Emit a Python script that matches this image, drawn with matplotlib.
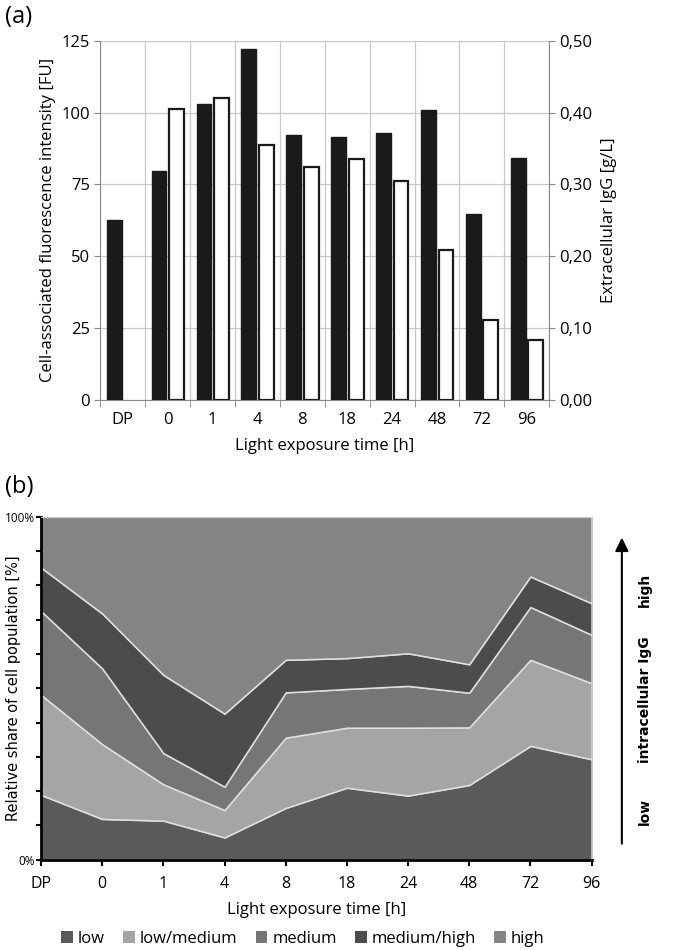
import numpy as np
import matplotlib
matplotlib.use("Agg")
from matplotlib import pyplot as plt
from matplotlib.patches import Patch, FancyArrowPatch

plt.rcParams['font.family'] = ['Open Sans', 'DejaVu Sans']

# (a) data
times = ["DP", "0", "1", "4", "8", "18", "24", "48", "72", "96"]
fluor = [62.8, 79.7, 103.0, 122.0, 92.3, 91.7, 93.0, 100.8, 64.6, 84.1]
igg = [np.nan, 0.405, 0.420, 0.355, 0.325, 0.336, 0.305, 0.209, 0.111, 0.084]

# (b) data, share of population per class [%]
classes = ["low", "low/medium", "medium", "medium/high", "high"]
s_low = [18.9, 11.9, 11.4, 6.5, 15.1, 21.0, 18.7, 21.8, 33.2, 29.3]
s_lowmed = [29.2, 21.8, 10.6, 8.0, 20.5, 17.5, 19.8, 16.8, 25.1, 22.2]
s_med = [24.4, 22.1, 9.1, 6.8, 13.2, 11.3, 12.2, 10.1, 15.4, 14.1]
s_medhigh = [12.7, 16.0, 22.8, 21.3, 9.5, 9.0, 9.5, 8.3, 8.9, 9.2]
s_high = [14.8, 28.2, 46.1, 57.4, 41.7, 41.2, 39.8, 43.0, 17.4, 25.2]
colors = ["#5a5a5a", "#a5a5a5", "#767676", "#4c4c4c", "#848484"]

fig = plt.figure(figsize=(6.73, 9.5), dpi=100)

# ---------- (a) ----------
ax1 = fig.add_axes([0.149, 0.579, 0.667, 0.378])
x = np.arange(len(times))
bw = 0.33
ax1.bar(x - 0.19, fluor, width=bw, color="#1a1a1a", edgecolor="#1a1a1a", zorder=3)
ax1.set_ylim(0, 125)
ax1.set_yticks([0, 25, 50, 75, 100, 125])
ax1.set_xlim(-0.5, len(times) - 0.5)
ax1.set_xticks(x)
ax1.set_xticklabels(times)
ax1.set_xticks(np.arange(-0.5, len(times), 1), minor=True)
ax1.tick_params(axis="x", which="major", length=0, labelsize=12, pad=9)
ax1.tick_params(axis="x", which="minor", length=5, color="#888888")
ax1.tick_params(axis="y", labelsize=12, length=4, color="#888888")
ax1.grid(axis="y", color="#c8c8c8", lw=0.9, zorder=0)
ax1.grid(axis="x", which="minor", color="#c8c8c8", lw=0.9, zorder=0)
for s in ["left", "bottom", "right"]:
    ax1.spines[s].set_color("#888888")
ax1.spines["top"].set_visible(False)
ax1.set_ylabel("Cell-associated fluorescence intensity [FU]", fontsize=12)
ax1.set_xlabel("Light exposure time [h]", fontsize=12, labelpad=7)

ax2 = ax1.twinx()
ax2.bar(x + 0.2, igg, width=bw, color="white", edgecolor="#1a1a1a", lw=1.6, zorder=3)
ax2.set_ylim(0, 0.5)
ax2.set_yticks([0, 0.1, 0.2, 0.3, 0.4, 0.5])
ax2.set_yticklabels(["0,00", "0,10", "0,20", "0,30", "0,40", "0,50"])
ax2.tick_params(axis="y", labelsize=12, length=4, color="#888888")
for s in ax2.spines.values():
    s.set_visible(False)
ax2.set_ylabel("Extracellular IgG [g/L]", fontsize=12, labelpad=6)

fig.text(0.008, 0.982, "(a)", fontsize=17, va="center")

# ---------- (b) ----------
ax3 = fig.add_axes([0.061, 0.095, 0.818, 0.361])
ax3.stackplot(x, s_low, s_lowmed, s_med, s_medhigh, s_high,
              colors=colors, labels=classes,
              edgecolor="#e0e0e0", lw=1.1)
ax3.set_xlim(0, len(times) - 1)
ax3.set_ylim(0, 100)
ax3.set_xticks(x)
ax3.set_xticklabels(times)
ax3.set_yticks(np.arange(0, 101, 10))
ax3.set_yticklabels(["0%"] + [""] * 9 + ["100%"])
ax3.tick_params(axis="x", labelsize=11.5, length=4, width=1.5, pad=8)
ax3.tick_params(axis="y", labelsize=8.5, length=3.5, width=1.5, pad=1)
ax3.spines["left"].set_linewidth(2)
ax3.spines["bottom"].set_linewidth(2)
ax3.spines["top"].set_color("#c8c8c8")
ax3.spines["right"].set_color("#c8c8c8")
ax3.set_ylabel("Relative share of cell population [%]", fontsize=10.5,
               family="DejaVu Sans")
ax3.yaxis.set_label_coords(-0.036, 0.5)
ax3.set_xlabel("Light exposure time [h]", fontsize=12, labelpad=7)

fig.text(0.008, 0.487, "(b)", fontsize=17, va="center")

# arrow on the right side
fig.add_artist(FancyArrowPatch(
    (0.924, 0.109), (0.924, 0.437), transform=fig.transFigure,
    arrowstyle="-|>,head_length=8,head_width=4", color="black", lw=1.5))
fig.text(0.958, 0.379, "high", rotation=90, fontsize=10, fontweight="bold",
         family="DejaVu Sans", ha="center", va="center")
fig.text(0.958, 0.263, "intracellular IgG", rotation=90, fontsize=10,
         fontweight="bold", family="DejaVu Sans", ha="center", va="center")
fig.text(0.958, 0.146, "low", rotation=90, fontsize=10, fontweight="bold",
         family="DejaVu Sans", ha="center", va="center")

handles = [Patch(facecolor=c, edgecolor="none") for c in colors]
fig.legend(handles, classes, loc="center", bbox_to_anchor=(0.45, 0.012),
           ncol=5, frameon=False, fontsize=12, handlelength=0.7,
           handleheight=0.7, handletextpad=0.3, columnspacing=1.1)

fig.savefig("out.png", dpi=100)
